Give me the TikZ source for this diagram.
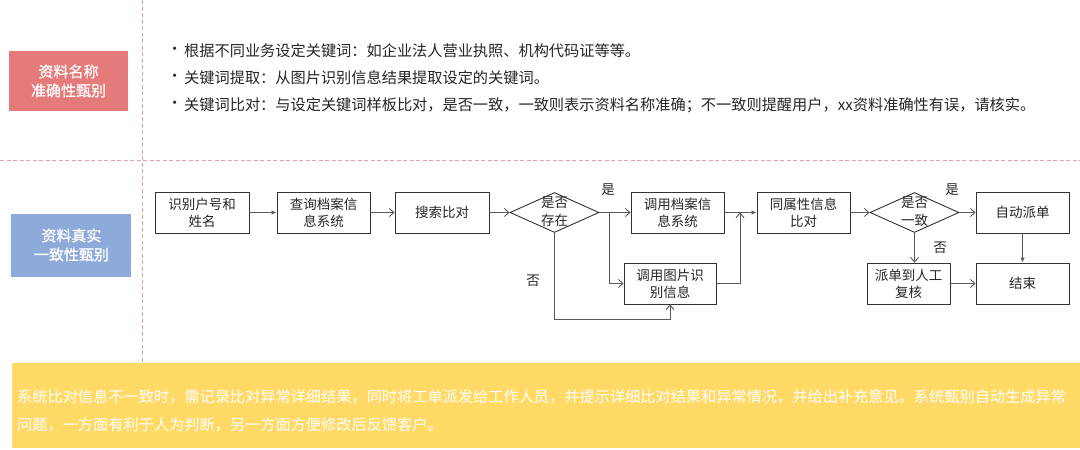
\documentclass[tikz,border=0pt]{standalone}
\usepackage{fontspec}
\setmainfont[AutoFakeBold=1.0]{Noto Sans CJK SC}
\usetikzlibrary{arrows.meta,shapes.geometric}
\definecolor{lblred}{RGB}{228,122,122}
\definecolor{lblblue}{RGB}{142,170,219}
\definecolor{noteyellow}{RGB}{255,217,102}
\definecolor{dashred}{RGB}{232,160,160}
\definecolor{txtdark}{RGB}{38,38,38}
\definecolor{conn}{RGB}{89,89,89}
\tikzset{
  flowbox/.style={draw=black!80, line width=0.9pt, minimum width=93pt, minimum height=41pt, inner sep=0pt, align=center, text=txtdark, font=\fontsize{13.5}{17}\selectfont},
  decision/.style={diamond, draw=black!80, line width=0.9pt, minimum width=89pt, minimum height=40pt, inner sep=0pt},
  dtext/.style={align=center, text=txtdark, font=\fontsize{13.5}{18}\selectfont, inner sep=0pt},
  seclabel/.style={minimum width=119pt, minimum height=60pt, inner sep=0pt, align=center, text=white, font=\fontsize{15}{19}\selectfont\bfseries},
  conline/.style={draw=conn, line width=0.9pt},
  openarrow/.style={conline, -{Straight Barb[length=4.5pt,width=8pt]}},
  fillarrow/.style={conline, -{Latex[length=5pt,width=4.5pt]}},
  yn/.style={text=txtdark, font=\fontsize{13.5}{16}\selectfont, inner sep=0pt},
  bullettext/.style={anchor=west, text=txtdark, font=\fontsize{15.2}{18}\selectfont, inner sep=0pt},
  notetext/.style={anchor=west, text=white, font=\fontsize{15.2}{18}\selectfont, inner sep=0pt},
  sepline/.style={draw=dashred, line width=0.8pt, dash pattern=on 4pt off 2.5pt}
}
\begin{document}
\begin{tikzpicture}[x=1pt,y=-1pt]
\useasboundingbox (0,0) rectangle (1080,450);
\fill[white] (0,0) rectangle (1080,450);

% separators
\draw[sepline] (142,0) -- (142,363);
\draw[sepline] (0,160) -- (1080,160);

% section labels
\node[seclabel, fill=lblred] (lab1) at (68.5,81) {资料名称\\准确性甄别};
\node[seclabel, fill=lblblue, minimum width=120pt, minimum height=63pt] (lab2) at (71.4,245) {资料真实\\一致性甄别};

% bullets
\node[bullettext] (bu1) at (167,51) {•};
\node[bullettext] (t1) at (184,51) {根据不同业务设定关键词：如企业法人营业执照、机构代码证等等。};
\node[bullettext] (bu2) at (167,78) {•};
\node[bullettext] (t2) at (184,78) {关键词提取：从图片识别信息结果提取设定的关键词。};
\node[bullettext] (bu3) at (167,105) {•};
\node[bullettext] (t3) at (184,105) {关键词比对：与设定关键词样板比对，是否一致，一致则表示资料名称准确；不一致则提醒用户，xx资料准确性有误，请核实。};

% flowchart
\node[flowbox, minimum width=94pt] (b1) at (202,212.5) {识别户号和\\姓名};
\node[flowbox] (b2) at (323.5,212.5) {查询档案信\\息系统};
\node[flowbox, minimum width=94pt] (b3) at (442,212.5) {搜索比对};
\node[decision] (d1) at (554.5,212.5) {};
\node[dtext] (d1t) at (554.5,212) {是否\\存在};
\node[flowbox] (b4) at (677.5,212.5) {调用档案信\\息系统};
\node[flowbox] (b5) at (803.5,212.5) {同属性信息\\比对};
\node[decision] (d2) at (914.5,212.5) {};
\node[dtext] (d2t) at (914.5,212) {是否\\一致};
\node[flowbox] (b6) at (1022.5,212.5) {自动派单};
\node[flowbox, minimum width=92pt] (b7) at (670,283.5) {调用图片识\\别信息};
\node[flowbox, minimum width=83pt] (b8) at (908.5,283.5) {派单到人工\\复核};
\node[flowbox] (b9) at (1022.5,283.5) {结束};

\coordinate (j1) at (609,212.5);
\coordinate (m1) at (740,212.5);
\coordinate (nb) at (670,319);

\draw[fillarrow] (b1) -- (b2);
\draw[openarrow] (b2) -- (b3);
\draw[openarrow] (b3) -- (d1);
\draw[openarrow] (d1.east) -- (b4.west);
\draw[openarrow] (j1) |- (b7.west);
\draw[fillarrow] (b4.east) -- (b5.west);
\draw[openarrow] (b7.east) -| (m1);
\draw[openarrow] (d1.south) |- (nb) -- (b7.south);
\draw[openarrow] (b5) -- (d2);
\draw[openarrow] (d2.east) -- (b6.west);
\draw[openarrow] (d2.south) -- (d2.south |- b8.north);
\draw[fillarrow] (b6) -- (b9);
\draw[openarrow] (b8) -- (b9);

\node[yn] (y1) at (608,190) {是};
\node[yn] (n1) at (533,281) {否};
\node[yn] (y2) at (952,190) {是};
\node[yn] (n2) at (940,248) {否};

% note box
\node[fill=noteyellow, minimum width=1068pt, minimum height=85pt, inner sep=0pt] (note) at (546,405.5) {};
\node[notetext] (n1l) at (17,397) {系统比对信息不一致时，需记录比对异常详细结果，同时将工单派发给工作人员，并提示详细比对结果和异常情况，并给出补充意见。系统甄别自动生成异常};
\node[notetext] (n2l) at (17,425) {问题，一方面有利于人为判断，另一方面方便修改后反馈客户。};
\end{tikzpicture}
\end{document}
